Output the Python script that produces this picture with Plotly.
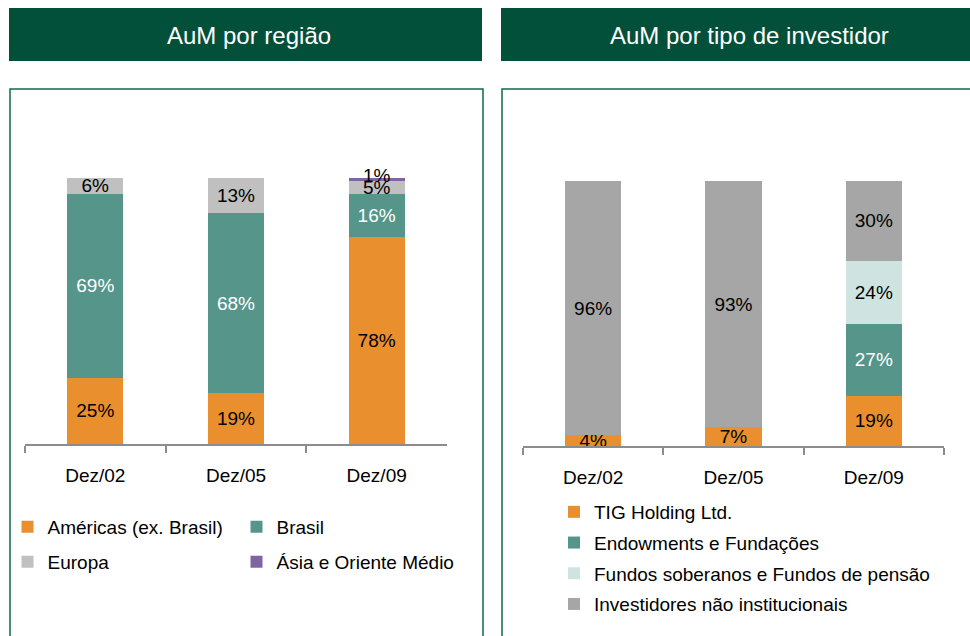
import plotly.graph_objects as go

# dados
datas = ["Dez/02", "Dez/05", "Dez/09"]

# AuM por região (%)
americas = [25, 19, 78]
brasil = [69, 68, 16]
europa = [6, 13, 5]
asia = [None, None, 1]

# AuM por tipo de investidor (%)
tig = [4, 7, 19]
endowments = [None, None, 27]
fundos = [None, None, 24]
investidores = [96, 93, 30]

LARANJA = "#E98F2E"
VERDE = "#56968A"
CINZA_CLARO = "#C0C0C0"
ROXO = "#8064A2"
CINZA = "#A6A6A6"
VERDE_CLARO = "#CFE4E0"
VERDE_ESCURO = "#02503A"
FONTE = "Liberation Sans, Arial, sans-serif"


def barra(x, y, nome, cor, cor_texto, eixo, legenda, com_texto=True):
    return go.Bar(
        x=x, y=y, name=nome, legendgroup=nome,
        marker=dict(color=cor, line=dict(width=0)),
        text=[f"{v}%" if v is not None else "" for v in y],
        textposition="inside" if com_texto else "none", insidetextanchor="middle",
        constraintext="none",
        textfont=dict(family=FONTE, size=19, color=cor_texto),
        xaxis="x" + eixo, yaxis="y" + eixo,
        legend=legenda, hoverinfo="skip",
    )


fig = go.Figure()

# gráfico da esquerda
fig.add_trace(barra(datas, americas, "Américas (ex. Brasil)", LARANJA, "black", "", "legend"))
fig.add_trace(barra(datas, brasil, "Brasil", VERDE, "white", "", "legend"))
fig.add_trace(barra(datas, europa, "Europa", CINZA_CLARO, "black", "", "legend2"))
fig.add_trace(barra(datas, asia, "Ásia e Oriente Médio", ROXO, "black", "", "legend2", com_texto=False))

# gráfico da direita
fig.add_trace(barra(datas, tig, "TIG Holding Ltd.", LARANJA, "black", "2", "legend3"))
fig.add_trace(barra(datas, endowments, "Endowments e Fundações", VERDE, "white", "2", "legend3"))
fig.add_trace(barra(datas, fundos, "Fundos soberanos e Fundos de pensão", VERDE_CLARO, "black", "2", "legend3"))
fig.add_trace(barra(datas, investidores, "Investidores não institucionais", CINZA, "black", "2", "legend3"))

# rótulo da Ásia (segmento muito fino) em cima da barra
for i, v in enumerate(asia):
    if v is None:
        continue
    topo = americas[i] + brasil[i] + europa[i] + v
    fig.add_annotation(x=datas[i], y=topo, xref="x", yref="y", text=f"{v}%",
                       showarrow=False, yanchor="middle", yshift=3,
                       font=dict(family=FONTE, size=19, color="black"))

W, H = 970, 636


def px(v):
    return v / W


def py(v):
    return 1 - v / H


eixo_x = dict(type="category", showline=True, linecolor="#8C8C8C", linewidth=2,
              ticks="outside", tickson="boundaries", ticklen=7, tickcolor="#8C8C8C",
              tickwidth=2, tickfont=dict(family=FONTE, size=19, color="black"),
              ticklabelstandoff=13, showgrid=False, zeroline=False, fixedrange=True)
eixo_y = dict(range=[0, 100], visible=False, fixedrange=True)

leg = dict(orientation="h", traceorder="normal", bgcolor="rgba(0,0,0,0)",
           font=dict(family=FONTE, size=19, color="black"),
           xanchor="left", yanchor="middle", entrywidth=184, itemclick=False, itemdoubleclick=False)

fig.update_layout(
    width=W, height=H,
    margin=dict(l=0, r=0, t=0, b=0),
    paper_bgcolor="white", plot_bgcolor="white",
    barmode="stack", bargap=0.6,
    showlegend=True,
    xaxis=dict(eixo_x, domain=[px(25), px(447)], anchor="y"),
    yaxis=dict(eixo_y, domain=[py(444), py(178)], anchor="x"),
    xaxis2=dict(eixo_x, domain=[px(523), px(944)], anchor="y2"),
    yaxis2=dict(eixo_y, domain=[py(446), py(181)], anchor="x2"),
    legend=dict(leg, x=px(7.5), y=py(527)),
    legend2=dict(leg, x=px(7.5), y=py(562)),
    legend3=dict(bgcolor="rgba(0,0,0,0)", font=dict(family=FONTE, size=19, color="black"),
                 orientation="v", traceorder="grouped", tracegroupgap=3, x=px(554), y=py(493),
                 xanchor="left", yanchor="top", itemclick=False, itemdoubleclick=False),
)

# cabeçalhos e molduras
fig.add_shape(type="rect", xref="paper", yref="paper", x0=px(9), x1=px(482), y0=py(61), y1=py(8),
              fillcolor=VERDE_ESCURO, line=dict(width=0), layer="below")
fig.add_shape(type="rect", xref="paper", yref="paper", x0=px(501), x1=px(1000), y0=py(61), y1=py(8),
              fillcolor=VERDE_ESCURO, line=dict(width=0), layer="below")
fig.add_shape(type="rect", xref="paper", yref="paper", x0=px(10), x1=px(483), y0=py(700), y1=py(89),
              line=dict(color="#0E6B48", width=1.5), layer="below")
fig.add_shape(type="rect", xref="paper", yref="paper", x0=px(502), x1=px(1000), y0=py(700), y1=py(89),
              line=dict(color="#0E6B48", width=1.5), layer="below")

fig.add_annotation(text="AuM por região", xref="paper", yref="paper", x=px(249), y=py(36),
                   xanchor="center", yanchor="middle",
                   showarrow=False, font=dict(family=FONTE, size=24, color="white"))
fig.add_annotation(text="AuM por tipo de investidor", xref="paper", yref="paper", x=px(749), y=py(36),
                   xanchor="center", yanchor="middle",
                   showarrow=False, font=dict(family=FONTE, size=24, color="white"))

# sem margem na página e sem barra de ferramentas
fig.write_html("out.html", config={"displayModeBar": False},
               post_script="document.body.style.margin='0';")
